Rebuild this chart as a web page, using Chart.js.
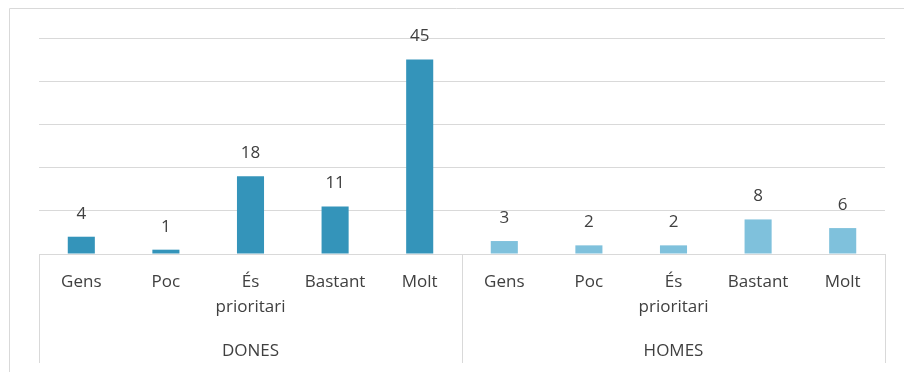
<!DOCTYPE html>
<html lang="ca">
<head>
  <meta charset="utf-8" />
  <title>Dones i homes</title>
  <style>
    html, body { margin: 0; padding: 0; background: #fff; }
    #wrap { position: relative; width: 904px; height: 372px; }
  </style>
</head>
<body>
  <div id="wrap"><canvas id="chart" width="904" height="372"></canvas></div>
  <script src="https://cdn.jsdelivr.net/npm/chart.js@4.4.1/dist/chart.umd.min.js"></script>
  <script>
  // categories per group and the group names
  const categories = ["Gens", "Poc", ["És", "prioritari"], "Bastant", "Molt"];
  const groups = ["DONES", "HOMES"];
  const donesValues = [4, 1, 18, 11, 45];
  const homesValues = [3, 2, 2, 8, 6];
  const yTicks = [0, 10, 20, 30, 40, 50];

  const FONT = "'Open Sans', sans-serif";
  const SIZE = 17;
  const TEXT = "#404040";
  const LINE = "#d9d9d9";

  const labels = categories.concat(categories);
  const empty = categories.map(function () { return null; });

  // value labels above bars, plus the group row of the axis
  const extras = {
    id: "extras",
    afterDatasetsDraw: function (chart) {
      const ctx = chart.ctx;
      ctx.save();
      ctx.fillStyle = TEXT;
      ctx.font = SIZE + "px " + FONT;
      ctx.textAlign = "center";
      ctx.textBaseline = "middle";
      chart.data.datasets.forEach(function (ds, i) {
        chart.getDatasetMeta(i).data.forEach(function (bar, j) {
          if (ds.data[j] == null) return;
          ctx.fillText(String(ds.data[j]), bar.x, bar.y - 23);
        });
      });
      ctx.restore();
    },
    afterDraw: function (chart) {
      const ctx = chart.ctx;
      const a = chart.chartArea;
      const x = chart.scales.x;
      const n = categories.length;
      ctx.save();
      // outer frame (only top and left edges are in view)
      ctx.strokeStyle = LINE;
      ctx.lineWidth = 1;
      ctx.beginPath();
      ctx.moveTo(9.5, 372);
      ctx.lineTo(9.5, 8.5);
      ctx.lineTo(904, 8.5);
      ctx.stroke();
      // separators between groups
      const edges = [a.left, (x.getPixelForValue(n - 1) + x.getPixelForValue(n)) / 2, a.right];
      edges.forEach(function (px) {
        const xx = Math.round(px) + 0.5;
        ctx.beginPath();
        ctx.moveTo(xx, a.bottom);
        ctx.lineTo(xx, a.bottom + 109);
        ctx.stroke();
      });
      // group names
      ctx.fillStyle = TEXT;
      ctx.font = SIZE + "px " + FONT;
      ctx.textAlign = "center";
      ctx.textBaseline = "middle";
      groups.forEach(function (g, i) {
        ctx.fillText(g, (edges[i] + edges[i + 1]) / 2, a.bottom + 97);
      });
      ctx.restore();
    }
  };

  new Chart(document.getElementById("chart"), {
    type: "bar",
    data: {
      labels: labels,
      datasets: [
        { label: groups[0], data: donesValues.concat(empty), backgroundColor: "#3494ba", barPercentage: 0.64, categoryPercentage: 0.5 },
        { label: groups[1], data: empty.concat(homesValues), backgroundColor: "#7fc1dc", barPercentage: 0.64, categoryPercentage: 0.5 }
      ]
    },
    options: {
      responsive: false,
      animation: false,
      layout: { padding: { left: 39, right: 19, top: 38, bottom: 8 } },
      plugins: { legend: { display: false }, tooltip: { enabled: false } },
      datasets: { bar: { grouped: false } },
      scales: {
        x: {
          grid: { display: false },
          border: { color: LINE },
          ticks: { color: TEXT, font: { family: FONT, size: SIZE, lineHeight: 1.5 }, padding: 7, maxRotation: 0, autoSkip: false },
          afterFit: function (s) { s.height = 110; }
        },
        y: {
          display: true,
          min: yTicks[0],
          max: yTicks[yTicks.length - 1],
          afterBuildTicks: function (s) { s.ticks = yTicks.map(function (v) { return { value: v }; }); },
          ticks: { display: false },
          grid: { color: LINE, drawTicks: false },
          border: { display: false },
          afterFit: function (s) { s.width = 0; }
        }
      }
    },
    plugins: [extras]
  });
  </script>
</body>
</html>
